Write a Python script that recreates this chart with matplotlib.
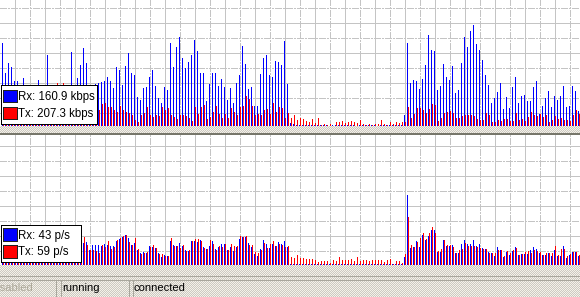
import matplotlib
matplotlib.use("Agg")
import matplotlib.pyplot as plt
import numpy as np
from matplotlib.patches import Rectangle

W, H = 580, 297
FONT = "Liberation Sans"

# bit rate panel (same units as the chart's pixel scale)
rx_rate = [
    83, 53, 63, 59, 45, 45, 32, 48, 30, 26, 35, 28, 46, 34, 30, 71, 38, 30, 40, 36,
    41, 30, 38, 74, 35, 48, 61, 78, 63, 40, 38, 42, 43, 44, 45, 49, 45, 38, 59, 56,
    41, 60, 73, 53, 51, 29, 26, 38, 39, 49, 56, 40, 28, 23, 39, 36, 83, 59, 79, 89,
    68, 58, 64, 71, 86, 75,
    53, 53, 25, 42, 53, 53, 40, 47, 39, 26, 38, 23, 43, 51, 80, 62, 37, 39, 20, 20,
    52, 68, 71, 51, 49, 65, 64, 61, 85, 42, 3,
    2, 1, 1, 1, 1, 1, 1, 1, 1, 1, 1, 1, 0, 1, 1, 1, 1, 1, 1, 1,
    1, 0, 1, 1, 1, 1, 1, 1, 0, 1, 1, 1, 1, 1, 1, 1, 1,
    11, 83, 43, 46, 45, 37, 47, 61, 91, 76, 75, 36, 40, 62, 49, 46, 60, 33, 36, 63,
    89, 79, 95, 101, 82, 76, 66, 51, 41, 23, 28, 34, 43, 17, 29, 18, 39, 49, 23, 30,
    31, 25, 25, 39, 45, 12, 20, 28, 35, 19, 30, 26, 30, 40, 19, 20, 40, 35, 15,
]
tx_rate = [
    14, 10, 18, 12, 8, 15, 10, 6, 12, 9, 14, 8, 15, 10, 12, 16, 13, 20, 43, 12,
    43, 15, 12, 18, 14, 10, 16, 22, 14, 12, 16, 18,
    16, 22, 23, 19, 19, 16, 14, 20, 16, 14, 13, 11, 6, 4, 11, 13, 19, 11, 9, 11,
    10, 19, 16, 18, 11, 9, 7, 11,
    11, 10, 8, 5, 19, 12, 19, 21, 7, 9, 14, 20, 12, 8, 12, 8, 18, 14, 11, 19,
    20, 30, 27, 20, 11, 12, 11, 16, 17, 12, 23, 14, 19, 18, 8, 13, 8, 11,
    6, 8, 7, 5, 4, 7, 3, 8, 1, 2, 1, 2, 0, 4, 4, 5, 3, 4, 5, 4, 3, 6, 2, 1, 2, 1, 2, 2,
    6, 2, 1, 4, 2, 4, 3, 4,
    4, 19, 8, 12, 18, 18, 16, 13, 17, 22, 21, 5, 8, 13, 14, 15, 13, 8, 8, 10,
    11, 11, 11, 10, 7, 6, 6, 13, 11, 4, 4, 6, 5, 7, 7, 5, 5, 13, 6, 7,
    5, 9, 14, 11, 10, 12, 9, 11, 4, 6, 10, 7, 8, 6, 6, 5, 11, 16, 12,
]

# packet rate panel
rx_pps = [
    18, 14, 20, 16, 12, 18, 22, 15, 19, 17, 13, 21, 16, 18, 20, 14, 19, 23, 17, 15,
    20, 18, 22, 16, 19, 21, 24,
    22, 23, 15, 20, 20, 20, 19, 21, 20, 19, 19, 24, 26, 28, 30, 27, 20, 22, 15, 12,
    13, 12, 19,
    18, 17, 12, 8, 10, 9, 24, 20, 19, 22, 19, 15, 14, 24, 24, 23, 25, 18, 16, 19,
    24, 16, 18, 21, 21, 15, 18, 14, 18, 26, 28, 28, 22, 18, 11, 9, 16, 25, 21, 17,
    21, 19, 23, 21, 24, 18, 1,
    1, 1, 1, 1, 1, 1, 1, 1, 1, 1, 1, 1, 1, 1, 1, 1, 1, 1, 1, 1,
    1, 1, 1, 1, 1, 1, 1, 1, 1, 1, 1, 1, 1, 1, 1, 1, 1,
    8, 70, 17, 18, 24, 18, 30, 25, 29, 35, 35, 13, 13, 25, 19, 19, 20, 12, 12, 21,
    25, 21, 21, 25, 19, 21, 17, 16, 13, 12, 9, 18, 15, 8, 13, 10, 14, 18, 10, 11,
    11, 11, 15, 18, 16, 12, 10, 10, 12, 9, 15, 9, 9, 19, 7, 10, 13, 13, 9,
]
tx_pps = [
    20, 16, 18, 14, 15, 20, 19, 17, 21, 15, 16, 19, 18, 20, 17, 16, 22, 20, 15, 18,
    19, 21, 20, 18, 17, 23, 22,
    28, 20, 15, 15, 14, 12, 20, 18, 24, 16, 18, 25, 27, 29, 30, 23, 20, 27, 16, 11,
    12, 13, 18,
    20, 17, 11, 11, 9, 9, 27, 19, 19, 17, 20, 14, 15, 24, 26, 26, 24, 17, 16, 25,
    21, 15, 19, 18, 21, 15, 21, 19, 19, 29, 28, 29, 20, 20, 13, 12, 15, 22, 17, 21,
    24, 19, 21, 20, 18, 19, 8,
    7, 10, 7, 7, 6, 6, 6, 5, 3, 4, 4, 4, 2, 5, 4, 8, 5, 5, 5, 6, 4, 8, 4, 5, 5, 4, 5, 5, 5,
    5, 3, 5, 6, 1, 4, 4, 2,
    11, 48, 20, 18, 23, 27, 32, 26, 32, 38, 32, 14, 16, 25, 20, 20, 18, 12, 15, 16,
    22, 19, 19, 19, 18, 17, 16, 16, 12, 12, 12, 15, 15, 9, 14, 12, 15, 17, 10, 11,
    13, 14, 12, 15, 14, 13, 10, 12, 12, 12, 19, 10, 16, 16, 9, 11, 13, 13, 10,
]

rate_labels = ["Rx: 160.9 kbps", "Tx: 207.3 kbps"]
pps_labels = ["Rx: 43 p/s", "Tx: 59 p/s"]
status_texts = ["disabled", "running", "connected"]

RX_COLOR = "#0000ff"
TX_COLOR = "#ff0000"
GRID_COLOR = "#c4c4c4"


def px_axes(fig, top, bottom):
    return fig.add_axes([0, 1 - bottom / H, 1, (bottom - top) / H])


def draw_panel(ax, top, bottom, rx, tx, solid_rows, dash_rows):
    height = bottom - top
    idx = np.arange(len(rx))
    ax.set_xlim(-2 / 3, (W - 2) / 3)
    ax.set_ylim(0, height)
    ax.set_facecolor("white")
    ax.set_xticks([])
    ax.set_yticks([])
    for spine in ax.spines.values():
        spine.set_visible(False)

    for col in range(14, W, 30):
        ax.axvline((col + 0.5 - 2) / 3, color=GRID_COLOR, lw=0.72, zorder=1, antialiased=False)
    for col in range(29, W, 30):
        ax.axvline((col + 0.5 - 2) / 3, color=GRID_COLOR, lw=0.72, zorder=1,
                   dashes=(6, 2, 2, 2), antialiased=False)
    for row in solid_rows:
        ax.axhline(bottom - row - 0.5, color=GRID_COLOR, lw=0.72, zorder=1, antialiased=False)
    for row in dash_rows:
        ax.axhline(bottom - row - 0.5, color=GRID_COLOR, lw=0.72, zorder=1,
                   dashes=(6, 2, 2, 2), antialiased=False)

    ax.bar(idx, rx, width=1 / 3, align="edge", color=RX_COLOR, linewidth=0,
           antialiased=False, zorder=2)
    ax.bar(idx + 1 / 3, tx, width=1 / 3, align="edge", color=TX_COLOR, linewidth=0,
           antialiased=False, zorder=2)


def draw_legend(ax, x0, y0, x1, y1, labels, squares, baselines):
    ax.add_patch(Rectangle((x0 + 0.5, y0 + 0.5), x1 - x0, y1 - y0, facecolor="white",
                           edgecolor="black", lw=0.72, antialiased=False))
    for color, (sy0, sy1), base, label in zip((RX_COLOR, TX_COLOR), squares, baselines, labels):
        ax.add_patch(Rectangle((2.5, sy0 + 0.5), 14, sy1 - sy0, facecolor=color,
                               edgecolor="#202020", lw=0.6, antialiased=False))
        ax.text(18.5, base, label, fontsize=8.3, family=FONT, va="baseline", ha="left",
                color="black")


fig = plt.figure(figsize=(W / 100, H / 100), dpi=100)

# window background with the dithered pattern
bg = fig.add_axes([0, 0, 1, 1], zorder=0)
yy, xx = np.mgrid[0:H, 0:W]
light = np.array([244, 241, 232]) / 255
dark = np.array([204, 201, 194]) / 255
pattern = np.where(((xx + yy) % 2 == 0)[..., None], light, dark)
bg.imshow(pattern, extent=(0, W, H, 0), interpolation="none", aspect="auto")
bg.set_xlim(0, W)
bg.set_ylim(H, 0)
bg.axis("off")

ax_top = px_axes(fig, 0, 126)
ax_top.set_zorder(1)
draw_panel(ax_top, 0, 126, rx_rate, tx_rate, [22, 52, 82, 112], [7, 37, 67, 97])

ax_bot = px_axes(fig, 135, 265)
ax_bot.set_zorder(1)
draw_panel(ax_bot, 135, 265, rx_pps, tx_pps, [145, 175, 205, 235], [160, 190, 220, 250])

over = fig.add_axes([0, 0, 1, 1], zorder=3)
over.set_xlim(0, W)
over.set_ylim(H, 0)
over.axis("off")
over.patch.set_alpha(0)

# separator between the two graphs
over.add_patch(Rectangle((0, 133), W, 2, facecolor="#76766a", lw=0, antialiased=False))

draw_legend(over, 0, 84, 96, 123, rate_labels, [(89, 101), (106, 118)], [100, 116.5])
draw_legend(over, 0, 224, 80, 261, pps_labels, [(227, 240), (244, 257)], [239, 255.5])

# status bar
line_kw = dict(color="#a8a69c", lw=0.72, antialiased=False)
over.plot([0, W], [275.5, 275.5], **line_kw)
over.plot([0, W], [279.5, 279.5], **line_kw)
for x in (55, 60, 128, 132):
    over.plot([x + 0.5, x + 0.5], [279.5, H], **line_kw)

over.text(-9, 291, status_texts[0], fontsize=8, family=FONT, va="baseline", color="#aca899")
over.text(62, 291, status_texts[1], fontsize=8, family=FONT, va="baseline", color="black")
over.text(134, 291, status_texts[2], fontsize=8, family=FONT, va="baseline", color="black")

fig.savefig("out.png", dpi=100)
